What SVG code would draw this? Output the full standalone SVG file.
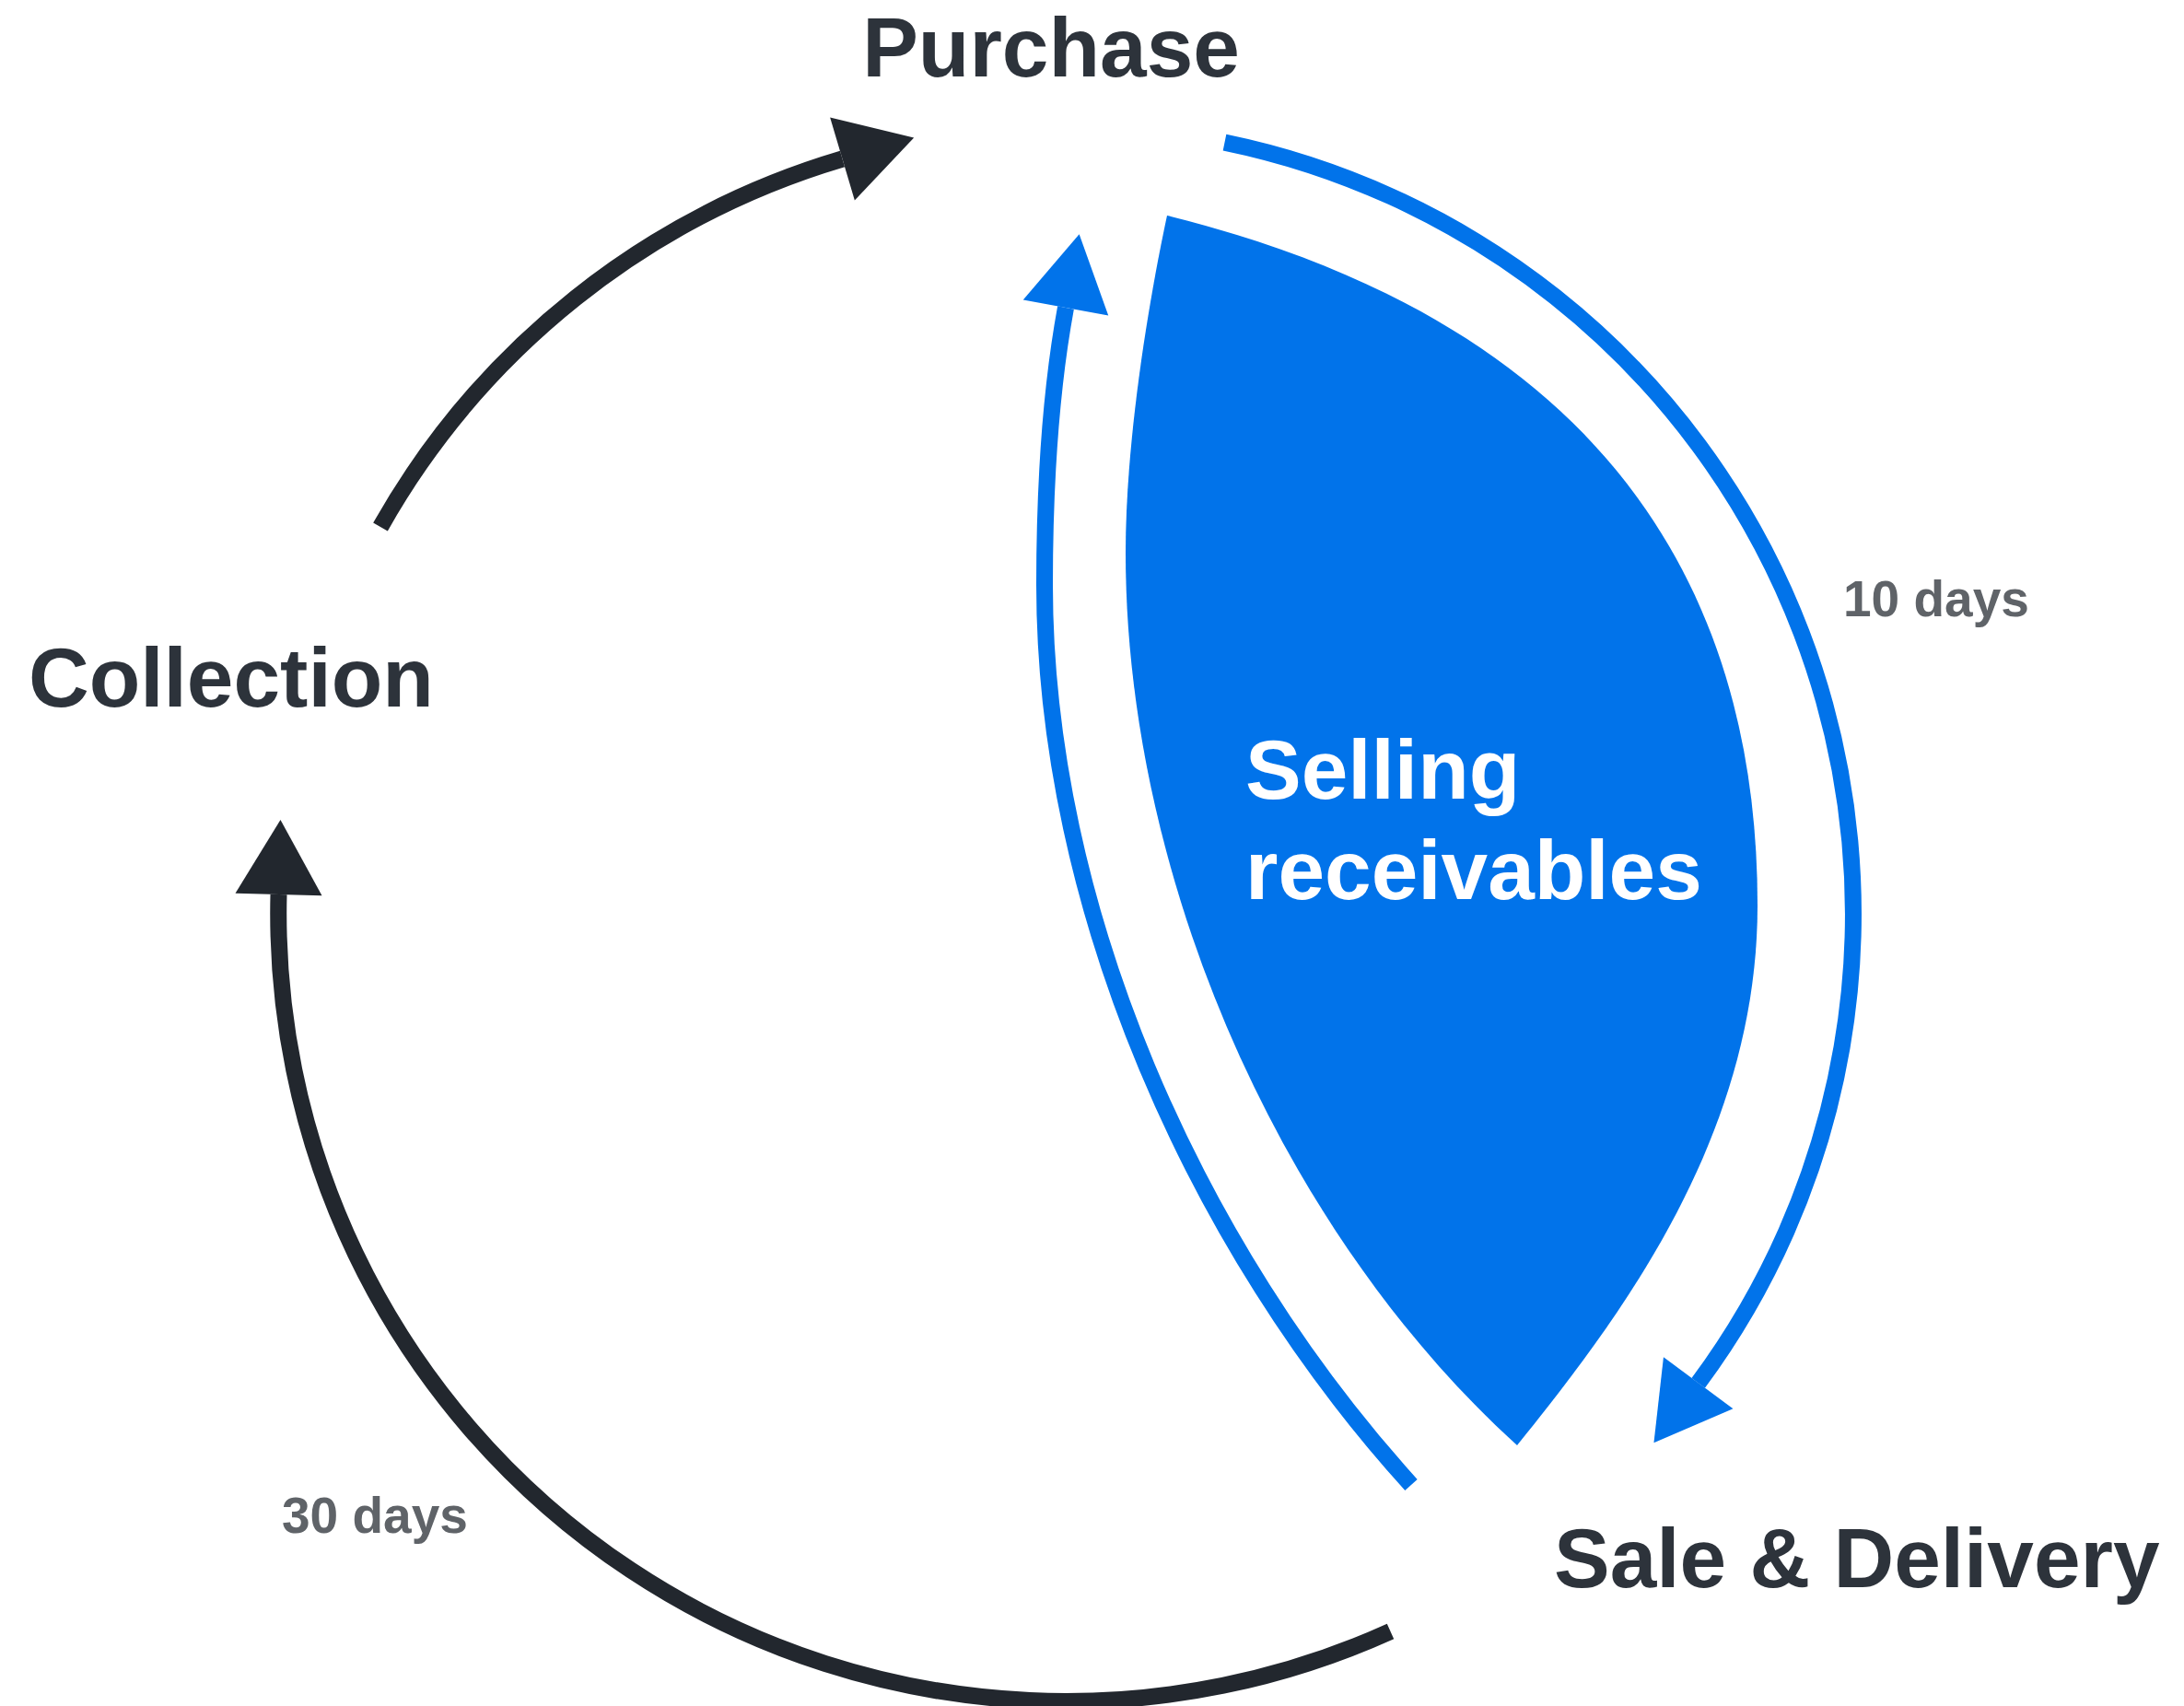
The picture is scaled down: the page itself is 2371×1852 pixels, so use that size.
<svg xmlns="http://www.w3.org/2000/svg" width="2371" height="1852" viewBox="0 0 2371 1852">
  <defs>
    <style>
      .stage { font-family: "Liberation Sans", Arial, sans-serif; font-weight: bold; font-size: 91px; fill: #2d333b; }
      .days { font-family: "Liberation Sans", Arial, sans-serif; font-weight: bold; font-size: 55px; fill: #5f6368; }
      .inner { font-family: "Liberation Sans", Arial, sans-serif; font-weight: bold; font-size: 91px; fill: #ffffff; }
      .cycle-dark { fill: none; stroke: #22272e; stroke-width: 18; stroke-linecap: butt; }
      .cycle-blue { fill: none; stroke: #0173ea; stroke-width: 18; stroke-linecap: butt; }
    </style>
    <marker id="head-dark" markerUnits="userSpaceOnUse" markerWidth="82" markerHeight="96" refX="0" refY="47" orient="auto" overflow="visible">
      <path d="M0,0 L81,47 L0,94 Z" fill="#22272e"/>
    </marker>
    <marker id="head-blue" markerUnits="userSpaceOnUse" markerWidth="82" markerHeight="96" refX="0" refY="47" orient="auto" overflow="visible">
      <path d="M0,0 L81,47 L0,94 Z" fill="#0173ea"/>
    </marker>
  </defs>

  <rect width="2371" height="1852" fill="#ffffff"/>

  <!-- factoring lens: receivables sold between purchase and sale -->
  <g id="selling-receivables">
    <path d="M1267,234 C1704,342 1908,603 1908,983 C1908,1233 1760,1429 1647,1569 C1388,1334 1222,950 1222,600 C1222,480 1246,332 1267,234 Z" fill="#0173ea"/>
    <text class="inner" x="1352" y="867">Selling</text>
    <text class="inner" x="1352" y="976">receivables</text>
  </g>

  <!-- cycle arcs, all on one circle (centre 1157,992, r 855) -->
  <g id="connectors">
    <path id="collection-to-purchase" class="cycle-dark" d="M413,572 A855,855 0 0 1 914.5,172.5" marker-end="url(#head-dark)"/>
    <path id="purchase-to-sale" class="cycle-blue" d="M1329.5,154.6 A855,855 0 0 1 1843.7,1501.3" marker-end="url(#head-blue)"/>
    <path id="sale-to-collection" class="cycle-dark" d="M1509.5,1771 A855,855 0 0 1 302.5,971" marker-end="url(#head-dark)"/>
    <path id="sale-to-purchase" class="cycle-blue" d="M1532,1612 C1297,1353 1134,985 1134,635 C1134,535 1139,432 1157,334" marker-end="url(#head-blue)"/>
    <text class="days" x="2001" y="669">10 days</text>
    <text class="days" x="306" y="1664">30 days</text>
  </g>

  <g id="purchase">
    <text class="stage" x="1141" y="83" text-anchor="middle">Purchase</text>
  </g>
  <g id="collection">
    <text class="stage" x="31" y="767">Collection</text>
  </g>
  <g id="sale-delivery">
    <text class="stage" x="1687" y="1723">Sale &amp; Delivery</text>
  </g>
</svg>
